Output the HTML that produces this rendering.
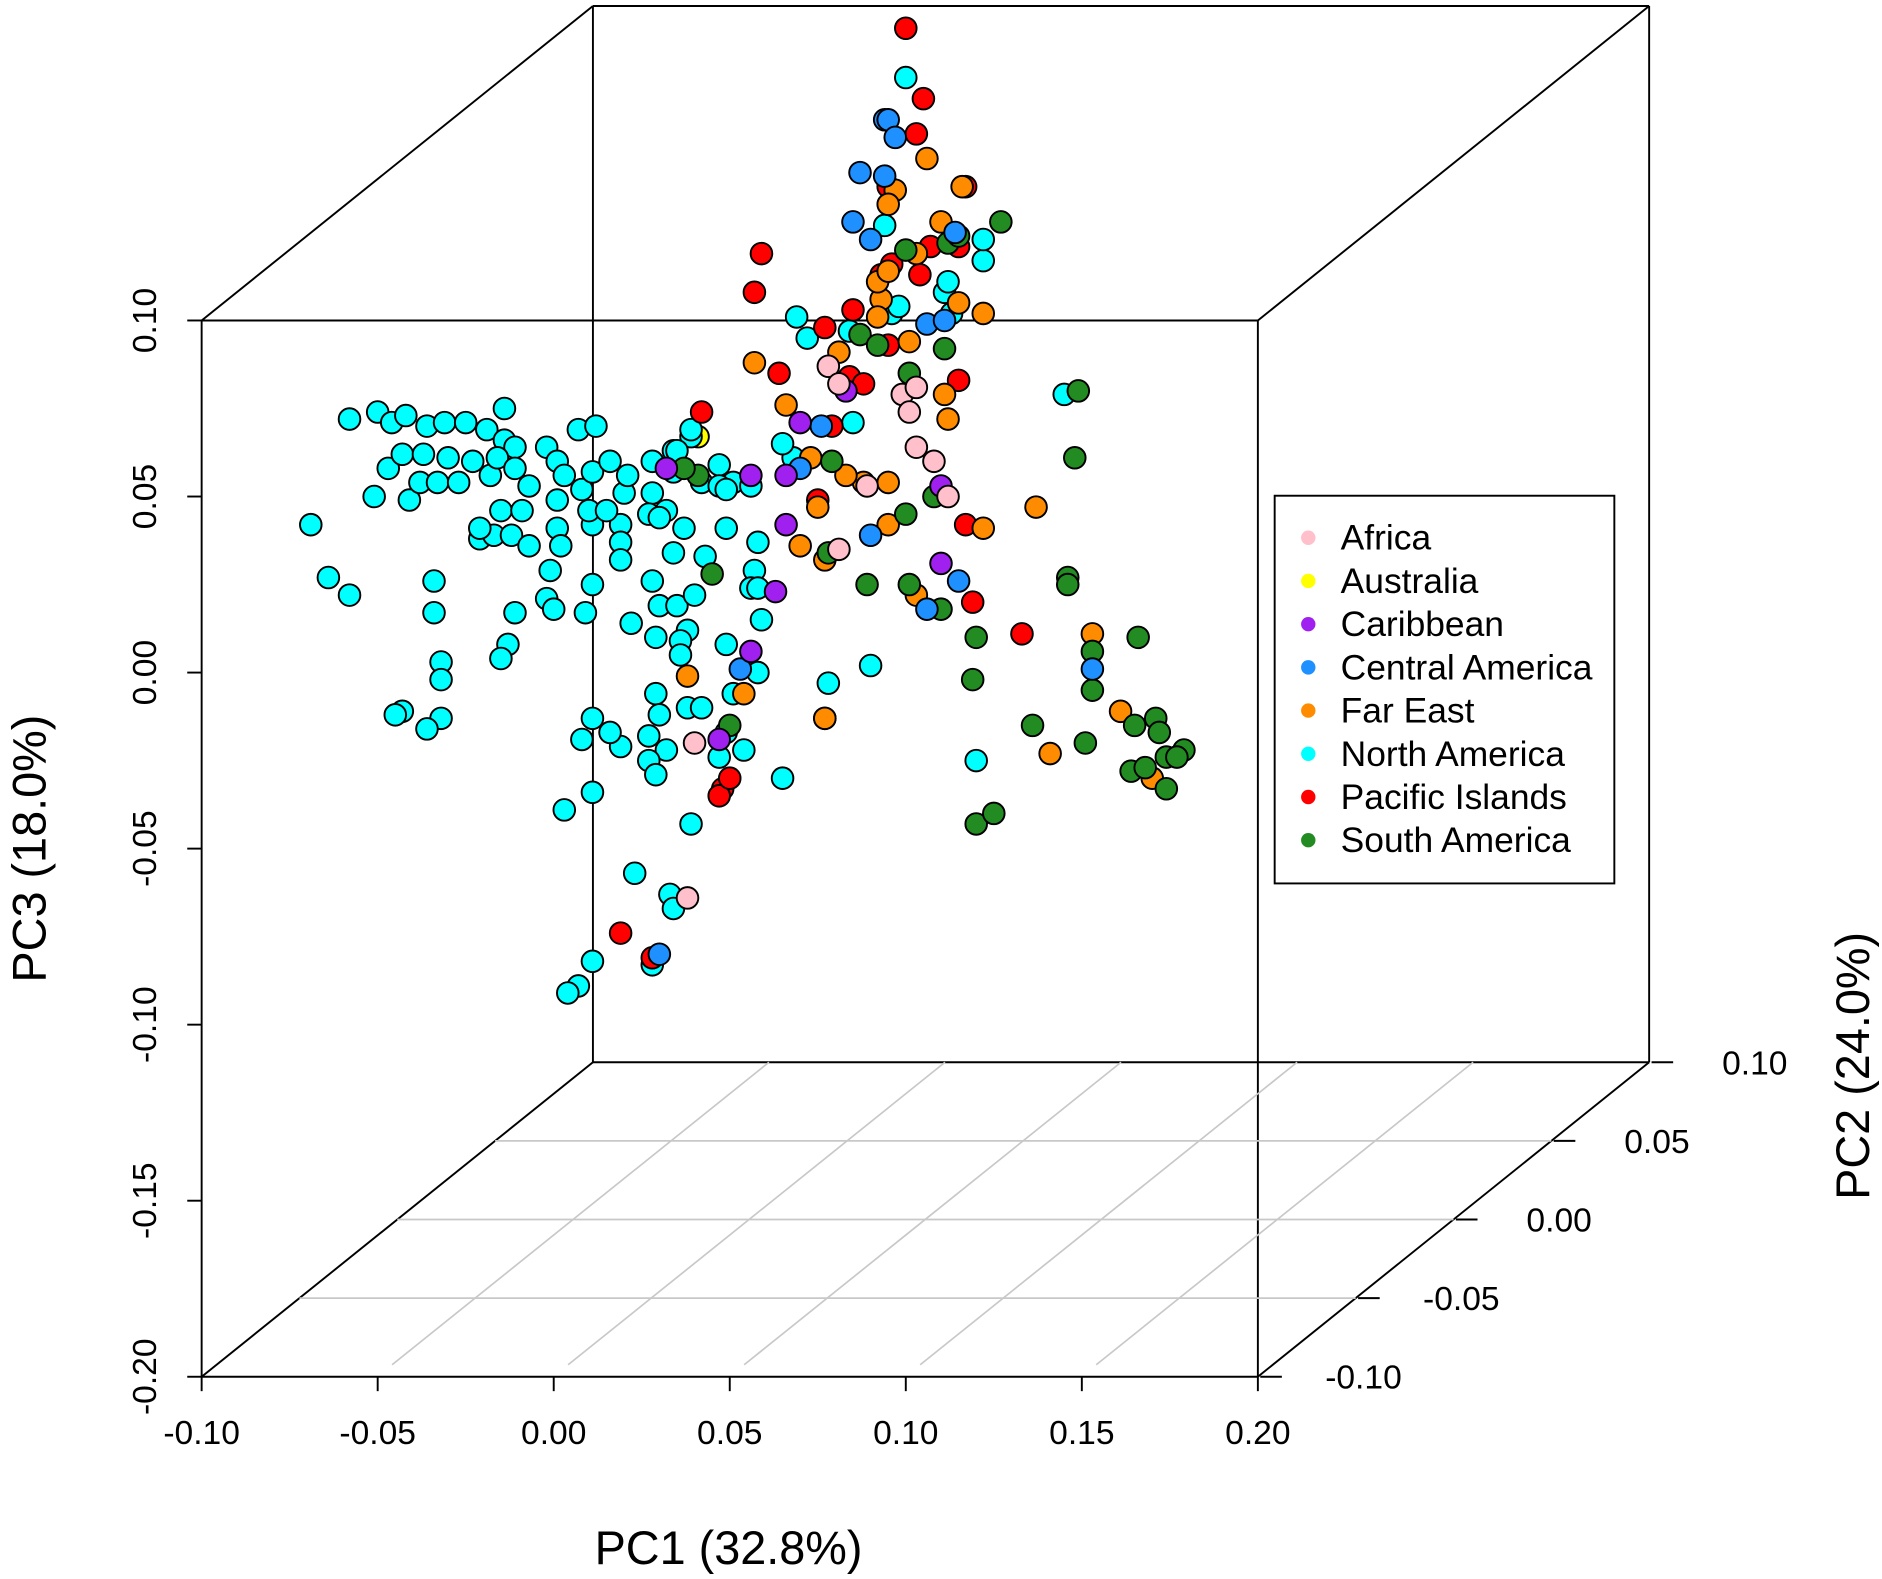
<!DOCTYPE html>
<html><head><meta charset="utf-8"><style>
html,body{margin:0;padding:0;background:#fff}
svg{display:block}
text{font-family:"Liberation Sans",Arial,sans-serif;fill:#000}
</style></head><body>
<svg id="chart" width="1882" height="1579" viewBox="0 0 1568 1315.5" preserveAspectRatio="none" xmlns="http://www.w3.org/2000/svg">
<g id="box" stroke="#000" stroke-width="1.6" fill="none"></g>
<g id="grid" stroke="#c8c8c8" stroke-width="1.4"></g>
<g id="ticks"></g>
<g id="pts"></g>
<text x="607" y="1303" font-size="39" text-anchor="middle">PC1 (32.8%)</text>
<text transform="translate(38,707) rotate(-90)" font-size="39" text-anchor="middle">PC3 (18.0%)</text>
<text transform="translate(1557,888) rotate(-90)" font-size="39" text-anchor="middle">PC2 (24.0%)</text>
<g id="legend">
<rect x="1062" y="413" width="283" height="323" fill="#fff" stroke="#000" stroke-width="1.6"/>
</g>
</svg>
<script>
// PC scores (PC1, PC3)
const naPC1=[-0.069,-0.064,-0.058,-0.058,-0.050,-0.046,-0.042,-0.036,-0.031,-0.025,-0.019,-0.014,-0.014,-0.011,-0.051,-0.041,-0.038,-0.033,-0.027,-0.018,-0.047,-0.043,-0.037,-0.030,-0.023,-0.016,-0.011,-0.021,-0.017,-0.012,-0.015,-0.009,-0.007,-0.002,0.001,0.007,0.012,0.001,0.003,0.008,0.011,0.016,0.020,0.019,0.011,0.001,-0.007,0.002,0.010,0.015,0.021,0.028,0.032,0.034,0.027,0.030,0.034,0.039,0.042,0.047,0.051,0.019,0.019,0.011,-0.002,0.000,-0.011,0.009,0.022,0.028,0.030,0.035,0.040,0.034,0.043,0.049,0.058,0.057,0.056,0.059,0.049,0.038,0.036,0.036,0.038,0.029,0.032,0.027,0.027,0.029,0.019,0.016,0.008,0.011,0.011,0.003,-0.013,-0.015,-0.032,-0.032,-0.032,-0.036,-0.043,-0.045,-0.034,-0.034,0.039,0.049,0.047,0.065,0.077,0.078,0.090,0.069,0.072,0.084,0.023,0.033,0.034,0.028,0.007,0.011,0.004,0.051,0.058,0.039,0.035,0.047,0.056,0.029,0.030,0.042,0.054,0.058,0.049,0.068,0.085,0.096,0.098,0.111,0.112,0.113,0.122,0.122,0.094,0.100,0.145,0.120,0.065,0.037,0.028,-0.001,-0.021];
const naPC3=[0.042,0.027,0.022,0.072,0.074,0.071,0.073,0.070,0.071,0.071,0.069,0.075,0.066,0.064,0.050,0.049,0.054,0.054,0.054,0.056,0.058,0.062,0.062,0.061,0.060,0.061,0.058,0.038,0.039,0.039,0.046,0.046,0.053,0.064,0.060,0.069,0.070,0.049,0.056,0.052,0.057,0.060,0.051,0.042,0.042,0.041,0.036,0.036,0.046,0.046,0.056,0.051,0.046,0.057,0.045,0.044,0.063,0.067,0.054,0.059,0.054,0.037,0.032,0.025,0.021,0.018,0.017,0.017,0.014,0.026,0.019,0.019,0.022,0.034,0.033,0.041,0.037,0.029,0.024,0.015,0.008,0.012,0.009,0.005,-0.010,0.010,-0.022,-0.018,-0.025,-0.029,-0.021,-0.017,-0.019,-0.013,-0.034,-0.039,0.008,0.004,0.003,-0.002,-0.013,-0.016,-0.011,-0.012,0.026,0.017,-0.043,-0.017,-0.024,-0.030,-0.013,-0.003,0.002,0.101,0.095,0.097,-0.057,-0.063,-0.067,-0.083,-0.089,-0.082,-0.091,-0.006,0.000,0.069,0.063,0.053,0.053,-0.006,-0.012,-0.010,-0.022,0.024,0.052,0.061,0.071,0.102,0.104,0.108,0.111,0.102,0.117,0.123,0.127,0.169,0.079,-0.025,0.065,0.041,0.060,0.029,0.041];
const piPC1=[0.100,0.105,0.103,0.059,0.057,0.077,0.085,0.064,0.084,0.088,0.079,0.042,0.096,0.107,0.115,0.117,0.093,0.117,0.119,0.133,0.075,0.028,0.019,0.048,0.047,0.050,0.095,0.115,0.095,0.104];
const piPC3=[0.183,0.163,0.153,0.119,0.108,0.098,0.103,0.085,0.084,0.082,0.070,0.074,0.116,0.121,0.121,0.138,0.113,0.042,0.020,0.011,0.049,-0.081,-0.074,-0.033,-0.035,-0.030,0.138,0.083,0.093,0.113];
const fePC1=[0.106,0.116,0.097,0.095,0.093,0.092,0.095,0.103,0.110,0.115,0.122,0.057,0.066,0.081,0.101,0.112,0.111,0.095,0.095,0.088,0.103,0.122,0.137,0.153,0.161,0.170,0.141,0.077,0.070,0.073,0.075,0.038,0.054,0.077,0.092,0.083];
const fePC3=[0.146,0.138,0.137,0.133,0.106,0.111,0.114,0.119,0.128,0.105,0.102,0.088,0.076,0.091,0.094,0.072,0.079,0.054,0.042,0.054,0.022,0.041,0.047,0.011,-0.011,-0.030,-0.023,0.032,0.036,0.061,0.047,-0.001,-0.006,-0.013,0.101,0.056];
const saPC1=[0.127,0.112,0.100,0.115,0.087,0.092,0.101,0.111,0.149,0.148,0.100,0.108,0.089,0.101,0.110,0.120,0.119,0.146,0.146,0.166,0.153,0.153,0.136,0.151,0.164,0.165,0.171,0.172,0.174,0.174,0.179,0.177,0.168,0.120,0.125,0.041,0.045,0.050,0.078,0.037,0.079];
const saPC3=[0.128,0.122,0.120,0.124,0.096,0.093,0.085,0.092,0.080,0.061,0.045,0.050,0.025,0.025,0.018,0.010,-0.002,0.027,0.025,0.010,0.006,-0.005,-0.015,-0.020,-0.028,-0.015,-0.013,-0.017,-0.024,-0.033,-0.022,-0.024,-0.027,-0.043,-0.040,0.056,0.028,-0.015,0.034,0.058,0.060];
const caPC1=[0.094,0.095,0.087,0.094,0.085,0.090,0.114,0.106,0.111,0.070,0.090,0.115,0.106,0.153,0.053,0.030,0.076,0.097];
const caPC3=[0.157,0.157,0.142,0.141,0.128,0.123,0.125,0.099,0.100,0.058,0.039,0.026,0.018,0.001,0.001,-0.080,0.070,0.152];
const cbPC1=[0.070,0.083,0.066,0.056,0.066,0.063,0.056,0.047,0.110,0.110,0.032];
const cbPC3=[0.071,0.080,0.056,0.056,0.042,0.023,0.006,-0.019,0.031,0.053,0.058];
const afPC1=[0.078,0.081,0.099,0.103,0.101,0.103,0.108,0.112,0.089,0.081,0.040,0.038];
const afPC3=[0.087,0.082,0.079,0.081,0.074,0.064,0.060,0.050,0.053,0.035,-0.020,-0.064];
const auPC1=[0.041];
const auPC3=[0.067];
const groups=["Africa","Australia","Caribbean","Central America","Far East","North America","Pacific Islands","South America"];
const colors=["#FFC0CB","#FFFF00","#A020F0","#1E90FF","#FF8C00","#00FFFF","#FF0000","#228B22"];
const xTicks=["-0.10","-0.05","0.00","0.05","0.10","0.15","0.20"];
const yTicks=["0.10","0.05","0.00","-0.05","-0.10","-0.15","-0.20"];
const zTicks=["-0.10","-0.05","0.00","0.05","0.10"];

const NS="http://www.w3.org/2000/svg";
const X0=168,X1=1048,Y0=267,Y1=1147,DX=326,DY=262;
function sx(v){return X0+(v+0.1)/0.3*(X1-X0);}
function sy(v){return Y1-(v+0.2)/0.3*(Y1-Y0);}
function mk(tag,attrs,parent){const e=document.createElementNS(NS,tag);for(const k in attrs)e.setAttribute(k,attrs[k]);parent.appendChild(e);return e;}
const box=document.getElementById('box');
const segs=[[X0,Y0,X1,Y0],[X0,Y0,X0,Y1],[X1,Y0,X1,Y1],[X0,Y1,X1,Y1],[X0,Y0,X0+DX,Y0-DY],[X1,Y0,X1+DX,Y0-DY],[X0+DX,Y0-DY,X1+DX,Y0-DY],[X1+DX,Y0-DY,X1+DX,Y1-DY],[X0+DX,Y0-DY,X0+DX,Y1-DY],[X0+DX,Y1-DY,X1+DX,Y1-DY],[X1,Y1,X1+DX,Y1-DY],[X0,Y1,X0+DX,Y1-DY]];
segs.forEach(s=>{const l=mk('line',{x1:s[0],y1:s[1],x2:s[2],y2:s[3]},box);

});
const grid=document.getElementById('grid');
for(let i=1;i<xTicks.length-1;i++){const v=parseFloat(xTicks[i]);const x=sx(v);
const l=mk('line',{x1:x+12,y1:Y1-10,x2:x+DX,y2:Y1-DY},grid);

}
for(let i=1;i<zTicks.length-1;i++){const f=i/(zTicks.length-1);const y=Y1-f*DY;
const l=mk('line',{x1:X0+f*DX,y1:y,x2:X1+f*DX,y2:y},grid);

}
const tk=document.getElementById('ticks');
xTicks.forEach(t=>{const x=sx(parseFloat(t));
const l=mk('line',{x1:x,y1:Y1,x2:x,y2:Y1+12,stroke:'#000','stroke-width':1.6},tk);


const tx=mk('text',{x:x,y:Y1+56,'font-size':28,'text-anchor':'middle'},tk);tx.textContent=t;

});
yTicks.forEach(t=>{const y=sy(parseFloat(t));
const l=mk('line',{x1:X0-12,y1:y,x2:X0,y2:y,stroke:'#000','stroke-width':1.6},tk);


const tx=mk('text',{transform:`translate(130,${y}) rotate(-90)`,'font-size':28,'text-anchor':'middle'},tk);tx.textContent=t;

});
zTicks.forEach((t,i)=>{const f=i/(zTicks.length-1);const x=X1+f*DX,y=Y1-f*DY;
const l=mk('line',{x1:x+2,y1:y,x2:x+20,y2:y,stroke:'#000','stroke-width':1.6},tk);


const tx=mk('text',{x:x+88,y:y+10,'font-size':28,'text-anchor':'middle'},tk);tx.textContent=t;

});
const pts=document.getElementById('pts');
const series=[[auPC1,auPC3,1],[naPC1,naPC3,5],[piPC1,piPC3,6],[fePC1,fePC3,4],[saPC1,saPC3,7],[caPC1,caPC3,3],[cbPC1,cbPC3,2],[afPC1,afPC3,0]];
series.forEach(s=>{for(let i=0;i<s[0].length;i++){
const c=mk('circle',{cx:sx(s[0][i]),cy:sy(s[1][i]),r:9,fill:colors[s[2]],stroke:'#000','stroke-width':1.6},pts);

}});
const lg=document.getElementById('legend');
groups.forEach((g,i)=>{const y=448+i*36;
const c=mk('circle',{cx:1090,cy:y,r:6,fill:colors[i]},lg);


const t=mk('text',{x:1117,y:y+10,'font-size':29.5},lg);t.textContent=g;

});
</script>
</body></html>
